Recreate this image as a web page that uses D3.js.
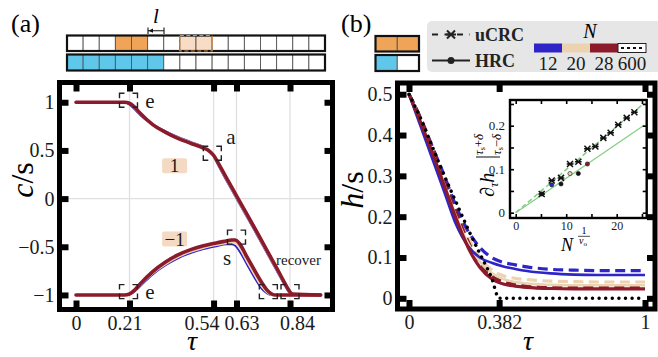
<!DOCTYPE html>
<html><head><meta charset="utf-8">
<script src="https://cdn.jsdelivr.net/npm/d3@7"></script>
<style>
body{margin:0;background:#fff}
svg{display:block}
svg text{font-family:"Liberation Serif","DejaVu Serif",serif !important}
</style></head><body>
<svg id="c" width="658" height="357"></svg>
<script>
// ---------------- DATA ----------------
// panel (a)
const tickTauA = [0, 0.21, 0.54, 0.63, 0.84];
const tickTauLabelsA = ["0", "0.21", "0.54", "0.63", "0.84"];
const tickTauShiftA = [0, -5, -12, 5, 7];
const gridTauA = [0.21, 0.54, 0.63, 0.84];
const tickCA = [-1, -0.5, 0, 0.5, 1];
const tickCLabelsA = ["\u22121", "\u22120.5", "0", "0.5", "1"];
const seriesN = ["12", "20", "28"];
const seriesColors = ["#2f24c8", "#ebd2b1", "#8b1a2b"];

const tauUp = [0, 0.19, 0.21, 0.23, 0.25, 0.3, 0.35, 0.4, 0.45, 0.5, 0.52, 0.54, 0.56, 0.6, 0.65, 0.7, 0.75, 0.8, 0.82, 0.835, 0.85, 0.96];
const cUp12 = [1, 1, 0.975, 0.925, 0.87, 0.775, 0.7, 0.64, 0.59, 0.54, 0.51, 0.44, 0.335, 0.14, -0.095, -0.33, -0.57, -0.81, -0.905, -0.97, -1, -1];
const cUp20 = [1, 1, 0.985, 0.94, 0.88, 0.77, 0.695, 0.632, 0.582, 0.532, 0.505, 0.445, 0.35, 0.155, -0.08, -0.315, -0.555, -0.795, -0.89, -0.96, -0.995, -1];
const cUp28 = [1, 1, 0.99, 0.95, 0.89, 0.77, 0.69, 0.625, 0.575, 0.525, 0.5, 0.45, 0.36, 0.17, -0.065, -0.3, -0.54, -0.78, -0.88, -0.95, -0.99, -1];

const tauLo = [0, 0.19, 0.21, 0.23, 0.25, 0.3, 0.35, 0.4, 0.45, 0.5, 0.55, 0.59, 0.61, 0.625, 0.64, 0.67, 0.7, 0.73, 0.75, 0.765, 0.78, 0.96];
const cLo12 = [-1, -1, -0.995, -0.965, -0.915, -0.79, -0.695, -0.62, -0.565, -0.525, -0.495, -0.475, -0.475, -0.49, -0.54, -0.68, -0.82, -0.94, -0.985, -1, -1, -1];
const cLo20 = [-1, -1, -0.99, -0.955, -0.9, -0.775, -0.68, -0.605, -0.55, -0.51, -0.48, -0.46, -0.455, -0.46, -0.5, -0.64, -0.78, -0.91, -0.97, -0.995, -1, -1];
const cLo28 = [-1, -1, -0.99, -0.95, -0.89, -0.76, -0.66, -0.585, -0.53, -0.49, -0.46, -0.44, -0.43, -0.43, -0.46, -0.6, -0.74, -0.875, -0.95, -0.985, -1, -1];

// annotation anchors (data coordinates)
const boxTau = [0.206, 0.535, 0.63, 0.206, 0.755, 0.84];
const boxC = [1.02, 0.47, -0.4, -0.965, -0.965, -0.965];
const labelText = ["e", "a", "s", "e", "recover"];
const labelTau = [0.272, 0.59, 0.577, 0.272, 0.785];
const labelC = [1.005, 0.64, -0.62, -0.968, -0.64];
const chargeText = ["1", "\u22121"];
const chargeTau = [0.387, 0.387];
const chargeC = [0.34, -0.42];

// header cells
const rowA1 = ["", "", "", "o", "o", "", "", "d", "d", "", "", "", "", "", "", ""];
const rowA2 = ["b", "b", "b", "b", "b", "b", "", "", "", "", "", "", "", "", "", ""];
const rowB1 = ["o", "o"];
const rowB2 = ["b", ""];

// panel (b)
const tickTauB = [0, 0.382, 1];
const tickTauLabelsB = ["0", "0.382", "1"];
const tickHB = [0, 0.1, 0.2, 0.3, 0.4, 0.5];
const tickHLabelsB = ["0", "0.1", "0.2", "0.3", "0.4", "0.5"];
const tauB = [0, 0.05, 0.1, 0.15, 0.2, 0.25, 0.3, 0.35, 0.4, 0.45, 0.5, 0.6, 0.7, 0.8, 0.9, 1.0];
const hHRC12 = [0.5, 0.42, 0.34, 0.26, 0.18, 0.128, 0.1, 0.087, 0.078, 0.072, 0.067, 0.061, 0.058, 0.057, 0.057, 0.057];
const hHRC20 = [0.5, 0.43, 0.355, 0.278, 0.2, 0.135, 0.09, 0.062, 0.047, 0.04, 0.036, 0.033, 0.032, 0.032, 0.032, 0.032];
const hHRC28 = [0.5, 0.43, 0.355, 0.275, 0.195, 0.125, 0.076, 0.048, 0.035, 0.03, 0.027, 0.024, 0.023, 0.023, 0.023, 0.023];
const huCRC12 = [0.5, 0.44, 0.37, 0.3, 0.225, 0.165, 0.125, 0.1, 0.088, 0.082, 0.077, 0.071, 0.069, 0.068, 0.068, 0.068];
const huCRC20 = [0.5, 0.44, 0.37, 0.295, 0.215, 0.15, 0.1, 0.07, 0.055, 0.049, 0.046, 0.042, 0.041, 0.04, 0.04, 0.04];
const huCRC28 = [0.5, 0.44, 0.365, 0.285, 0.21, 0.14, 0.085, 0.055, 0.04, 0.034, 0.031, 0.029, 0.028, 0.028, 0.028, 0.028];
const tau600 = [0, 0.05, 0.1, 0.15, 0.2, 0.25, 0.3, 0.35, 0.382, 1];
const h600 = [0.5, 0.44, 0.37, 0.3, 0.235, 0.17, 0.11, 0.05, 0, 0];
const legendN = ["12", "20", "28", "600"];

// inset
const insetTicksX = [0, 5, 10, 15, 20, 25];
const insetLabelsX = ["0", "", "10", "", "20", ""];
const insetTicksY = [0, 0.05, 0.1, 0.15, 0.2, 0.25];
const insetLabelsY = ["0", "", "0.1", "", "0.2", ""];
const insetXu = [5.15, 7.13, 8.97, 10.75, 12.4, 14.2, 15.77, 17.35, 18.8, 20.3, 21.98, 23.5];
const insetYu = [0.043, 0.074, 0.080, 0.112, 0.117, 0.147, 0.152, 0.172, 0.184, 0.202, 0.218, 0.231];
const insetXh = [5.15, 7.13, 8.97, 10.75, 12.4, 14.2];
const insetYh = [0.043, 0.064, 0.066, 0.090, 0.090, 0.112];
const insetHColors = ["#111", "#2f24c8", "#111", "#ebd2b1", "#111", "#8b1a2b"];
const fitX = [0, 25.5];
const fitU = [0, 0.2525];
const fitH = [0, 0.2015];

// ---------------- DRAW ----------------
const svg = d3.select('#c');
const zip = (a, b) => a.map((v, i) => [v, b[i]]);

function styleAxis(g, fs, tw) {
  g.attr('font-family', null);
  g.select('.domain').remove();
  g.selectAll('.tick line').attr('stroke', '#000').attr('stroke-width', tw);
  g.selectAll('.tick text').attr('font-size', fs).attr('fill', '#1a1a1a');
}

function bracketBox(g, cx, cy, w, h) {
  const a = 5, gx = w - 2 * a, gy = h - 2 * a;
  g.append('rect').attr('x', cx - w / 2).attr('y', cy - h / 2).attr('width', w).attr('height', h)
    .attr('fill', 'none').attr('stroke', '#222').attr('stroke-width', 1.4)
    .attr('stroke-dasharray', [a, gx, 2 * a, gy, 2 * a, gx, 2 * a, gy, a].join(','));
}

// ===== Panel (a) =====
const xA = d3.scaleLinear().domain([-0.0648, 1.0068]).range([59.5, 332.5]);
const yA = d3.scaleLinear().domain([-1.151, 1.205]).range([309.5, 82.5]);
const gA = svg.append('g');

gA.selectAll('line.gv').data(gridTauA).join('line')
  .attr('x1', d => xA(d)).attr('x2', d => xA(d)).attr('y1', 83).attr('y2', 309)
  .attr('stroke', '#e0e0e0').attr('stroke-width', 1.3);
gA.append('line').attr('x1', 60).attr('x2', 332).attr('y1', yA(0)).attr('y2', yA(0))
  .attr('stroke', '#e0e0e0').attr('stroke-width', 1.3);

const lineA = d3.line().x(d => xA(d[0])).y(d => yA(d[1])).curve(d3.curveMonotoneX);
const upSets = [cUp12, cUp20, cUp28];
const loSets = [cLo12, cLo20, cLo28];
const widthsA = [1.8, 2.6, 3.6];
[0, 1, 2].forEach(i => {
  gA.append('path').datum(zip(tauUp, upSets[i])).attr('d', lineA).attr('fill', 'none')
    .attr('stroke', seriesColors[i]).attr('stroke-width', widthsA[i]).attr('stroke-linecap', 'round');
  gA.append('path').datum(zip(tauLo, loSets[i])).attr('d', lineA).attr('fill', 'none')
    .attr('stroke', seriesColors[i]).attr('stroke-width', widthsA[i]).attr('stroke-linecap', 'round');
});

boxTau.forEach((t, i) => bracketBox(gA, xA(t), yA(boxC[i]), 18, 14));
labelText.forEach((s, i) => {
  gA.append('text').attr('x', xA(labelTau[i])).attr('y', yA(labelC[i])).attr('dy', '0.32em')
    .attr('font-size', s === 'recover' ? 15 : 21).attr('fill', '#1a1a1a').text(s);
});
chargeText.forEach((s, i) => {
  const cx = xA(chargeTau[i]), cy = yA(chargeC[i]);
  gA.append('rect').attr('x', cx - 12.5).attr('y', cy - 7.5).attr('width', 25).attr('height', 15)
    .attr('rx', 2).attr('fill', '#f5dac3');
  gA.append('text').attr('x', cx).attr('y', cy).attr('dy', '0.34em').attr('text-anchor', 'middle')
    .attr('font-size', 19).attr('fill', '#1a1a1a').text(s);
});

const axA_b = gA.append('g').attr('transform', 'translate(0,309.5)')
  .call(d3.axisBottom(xA).tickValues(tickTauA).tickFormat((d, i) => tickTauLabelsA[i]).tickSize(-9).tickPadding(6));
styleAxis(axA_b, 20, 6);
axA_b.selectAll('.tick text').attr('dx', (d, i) => tickTauShiftA[i]);
const axA_t = gA.append('g').attr('transform', 'translate(0,82.5)')
  .call(d3.axisTop(xA).tickValues(tickTauA).tickFormat('').tickSize(-9));
styleAxis(axA_t, 20, 6);
const axA_l = gA.append('g').attr('transform', 'translate(59.5,0)')
  .call(d3.axisLeft(yA).tickValues(tickCA).tickFormat((d, i) => tickCLabelsA[i]).tickSize(-9).tickPadding(5));
styleAxis(axA_l, 20, 6);
const axA_r = gA.append('g').attr('transform', 'translate(332.5,0)')
  .call(d3.axisRight(yA).tickValues(tickCA).tickFormat('').tickSize(-8));
styleAxis(axA_r, 19, 6);

gA.append('rect').attr('x', 59.5).attr('y', 82.5).attr('width', 273).attr('height', 227)
  .attr('fill', 'none').attr('stroke', '#000').attr('stroke-width', 5);

gA.append('text').attr('x', 192).attr('y', 349.5).attr('text-anchor', 'middle')
  .attr('font-size', 28).attr('font-style', 'italic').text('\u03c4');
const ylA = gA.append('text').attr('transform', 'translate(33,180) rotate(-90)')
  .attr('text-anchor', 'middle').attr('font-size', 32);
ylA.append('tspan').attr('font-style', 'italic').text('c');
ylA.append('tspan').text('/s');

// header (a)
svg.append('text').attr('x', 11).attr('y', 32).attr('font-size', 26).text('(a)');
function drawRow(states, x0, x1, y0, h) {
  const sc = d3.scaleBand().domain(d3.range(states.length)).range([x0, x1]);
  const g = svg.append('g');
  g.selectAll('rect').data(states).join('rect')
    .attr('x', (d, i) => sc(i)).attr('y', y0).attr('width', sc.bandwidth()).attr('height', h)
    .attr('fill', d => d === 'o' ? '#f0a458' : d === 'b' ? '#5fc7ea' : d === 'd' ? '#f8dcc5' : '#fff')
    .attr('stroke', '#555').attr('stroke-width', 0.9);
  g.append('rect').attr('x', x0).attr('y', y0).attr('width', x1 - x0).attr('height', h)
    .attr('fill', 'none').attr('stroke', '#111').attr('stroke-width', 2.2);
  const di = states.map((d, i) => d === 'd' ? i : -1).filter(i => i >= 0);
  if (di.length) {
    const a = di[0], b = di[di.length - 1];
    g.append('rect').attr('x', sc(a)).attr('y', y0).attr('width', sc(b) + sc.bandwidth() - sc(a)).attr('height', h)
      .attr('fill', 'none').attr('stroke', '#e58a2e').attr('stroke-width', 1.2).attr('stroke-dasharray', '4,2.5');
  }
}
drawRow(rowA1, 67, 325, 35.5, 15.5);
drawRow(rowA2, 67, 325, 54.5, 16);
// l arrow
svg.append('text').attr('x', 156).attr('y', 23).attr('text-anchor', 'middle').attr('font-size', 21)
  .attr('font-style', 'italic').text('l');
svg.append('path').attr('d', 'M148,30.7H164M148,27.5V34M164,27.5V34').attr('stroke', '#111').attr('stroke-width', 1.1).attr('fill', 'none');
svg.append('path').attr('d', 'M148.5,30.7L153,28.6L153,32.8Z').attr('fill', '#111');

// ===== Panel (b) =====
const xB = d3.scaleLinear().domain([-0.0487, 1.0424]).range([397.5, 655]);
const yB = d3.scaleLinear().domain([-0.0262, 0.5275]).range([309, 83]);
const gB = svg.append('g');
svg.append('defs').append('clipPath').attr('id', 'clipB').append('rect')
  .attr('x', 400).attr('y', 85).attr('width', 252).attr('height', 222);
const gBc = gB.append('g').attr('clip-path', 'url(#clipB)');
const lineB = d3.line().x(d => xB(d[0])).y(d => yB(d[1])).curve(d3.curveMonotoneX);
const hrc = [hHRC12, hHRC20, hHRC28];
const ucrc = [huCRC12, huCRC20, huCRC28];
[1, 0, 2].forEach(i => {
  gBc.append('path').datum(zip(tauB, ucrc[i])).attr('d', lineB).attr('fill', 'none')
    .attr('stroke', seriesColors[i]).attr('stroke-width', 3.2).attr('stroke-dasharray', '10,5.5');
});
[1, 0, 2].forEach(i => {
  gBc.append('path').datum(zip(tauB, hrc[i])).attr('d', lineB).attr('fill', 'none')
    .attr('stroke', seriesColors[i]).attr('stroke-width', i === 2 ? 3.2 : 2.6);
});
gBc.append('path').datum(zip(tau600, h600)).attr('d', lineB)
  .attr('fill', 'none').attr('stroke', '#000').attr('stroke-width', 3.4)
  .attr('stroke-linecap', 'round').attr('stroke-dasharray', '0.1,6.5');

const axB_b = gB.append('g').attr('transform', 'translate(0,309)')
  .call(d3.axisBottom(xB).tickValues(tickTauB).tickFormat((d, i) => tickTauLabelsB[i]).tickSize(-9).tickPadding(6));
styleAxis(axB_b, 20, 6);
const axB_t = gB.append('g').attr('transform', 'translate(0,83)')
  .call(d3.axisTop(xB).tickValues(tickTauB).tickFormat('').tickSize(-9));
styleAxis(axB_t, 20, 6);
const axB_l = gB.append('g').attr('transform', 'translate(397.5,0)')
  .call(d3.axisLeft(yB).tickValues(tickHB).tickFormat((d, i) => tickHLabelsB[i]).tickSize(-9).tickPadding(5));
styleAxis(axB_l, 20, 6);
const axB_r = gB.append('g').attr('transform', 'translate(655,0)')
  .call(d3.axisRight(yB).tickValues(tickHB).tickFormat('').tickSize(-8));
styleAxis(axB_r, 19, 6);

// inset
const xI = d3.scaleLinear().domain([-1.13, 25.94]).range([510, 646.7]);
const yI = d3.scaleLinear().domain([-0.0122, 0.2591]).range([218, 100]);
const gI = gB.append('g');
gI.append('rect').attr('x', 510).attr('y', 100).attr('width', 136.7).attr('height', 118).attr('fill', '#fff');
const lineI = d3.line().x(d => xI(d[0])).y(d => yI(d[1]));
gI.append('path').datum(zip(fitX, fitH)).attr('d', lineI).attr('stroke', '#86cf86').attr('stroke-width', 1.3).attr('fill', 'none');
gI.append('path').datum(zip(fitX, fitU)).attr('d', lineI).attr('stroke', '#86cf86').attr('stroke-width', 1.6)
  .attr('fill', 'none').attr('stroke-dasharray', '5,3');
const starPath = 'M-3,-3L3,3M-3,3L3,-3M-3.3,0H3.3';
gI.selectAll('path.u').data(zip(insetXu, insetYu)).join('path').attr('class', 'u')
  .attr('transform', d => `translate(${xI(d[0])},${yI(d[1])})`).attr('d', starPath)
  .attr('stroke', '#111').attr('stroke-width', 1.5).attr('fill', 'none');
gI.selectAll('circle.h').data(zip(insetXh, insetYh)).join('circle').attr('class', 'h')
  .attr('cx', d => xI(d[0])).attr('cy', d => yI(d[1])).attr('r', 2.1)
  .attr('fill', (d, i) => insetHColors[i]).attr('stroke', '#111').attr('stroke-width', 0.6);
const axI_b = gI.append('g').attr('transform', 'translate(0,218)')
  .call(d3.axisBottom(xI).tickValues(insetTicksX).tickFormat((d, i) => insetLabelsX[i]).tickSize(-4).tickPadding(3));
styleAxis(axI_b, 12, 1.6);
const axI_t = gI.append('g').attr('transform', 'translate(0,100)')
  .call(d3.axisTop(xI).tickValues(insetTicksX).tickFormat('').tickSize(-4));
styleAxis(axI_t, 12, 1.6);
const axI_l = gI.append('g').attr('transform', 'translate(510,0)')
  .call(d3.axisLeft(yI).tickValues(insetTicksY).tickFormat((d, i) => insetLabelsY[i]).tickSize(-4).tickPadding(5));
styleAxis(axI_l, 13, 1.6);
const axI_r = gI.append('g').attr('transform', 'translate(646.7,0)')
  .call(d3.axisRight(yI).tickValues(insetTicksY).tickFormat('').tickSize(-4));
styleAxis(axI_r, 13, 1.6);
gI.append('rect').attr('x', 510).attr('y', 100).attr('width', 136.7).attr('height', 118)
  .attr('fill', 'none').attr('stroke', '#000').attr('stroke-width', 2.4);
// inset x label
gI.append('text').attr('x', 561).attr('y', 251).attr('font-size', 18).attr('font-style', 'italic').text('N');
gI.append('text').attr('x', 584).attr('y', 234).attr('text-anchor', 'middle').attr('font-size', 10).text('1');
gI.append('line').attr('x1', 578).attr('x2', 590).attr('y1', 236.3).attr('y2', 236.3).attr('stroke', '#222').attr('stroke-width', 0.8);
const nu = gI.append('text').attr('x', 579).attr('y', 244).attr('font-size', 10);
nu.append('tspan').attr('font-style', 'italic').text('\u03bd');
nu.append('tspan').attr('font-size', 7).attr('dy', 1.5).text('o');
// inset y label (rotated)
const yl = gI.append('g').attr('transform', 'translate(494,161) rotate(-90)');
const ylt = yl.append('text').attr('x', -36).attr('y', 0).attr('font-size', 20);
ylt.append('tspan').attr('font-style', 'italic').text('\u2202');
ylt.append('tspan').attr('font-size', 12).attr('dy', 4).attr('font-style', 'italic').text('\u03c4');
ylt.append('tspan').attr('dy', -4).attr('font-style', 'italic').text('h');
yl.append('line').attr('x1', 4).attr('x2', 4).attr('y1', -18).attr('y2', 6).attr('stroke', '#222').attr('stroke-width', 1.1);
const sup = yl.append('text').attr('x', 6).attr('y', -11).attr('font-size', 13);
sup.append('tspan').attr('font-style', 'italic').text('\u03c4');
sup.append('tspan').attr('font-size', 8).attr('dy', 2).text('s');
sup.append('tspan').attr('dy', -2).text('+');
sup.append('tspan').attr('font-style', 'italic').text('\u03b4');
const sub = yl.append('text').attr('x', 6).attr('y', 7).attr('font-size', 13);
sub.append('tspan').attr('font-style', 'italic').text('\u03c4');
sub.append('tspan').attr('font-size', 8).attr('dy', 2).text('s');
sub.append('tspan').attr('dy', -2).text('\u2212');
sub.append('tspan').attr('font-style', 'italic').text('\u03b4');

gB.append('rect').attr('x', 397.5).attr('y', 83).attr('width', 257.5).attr('height', 226)
  .attr('fill', 'none').attr('stroke', '#000').attr('stroke-width', 5);

gB.append('text').attr('x', 528).attr('y', 349.5).attr('text-anchor', 'middle')
  .attr('font-size', 28).attr('font-style', 'italic').text('\u03c4');
const ylB = gB.append('text').attr('transform', 'translate(363,190) rotate(-90)')
  .attr('text-anchor', 'middle').attr('font-size', 32);
ylB.append('tspan').attr('font-style', 'italic').text('h');
ylB.append('tspan').text('/s');

// header (b)
svg.append('text').attr('x', 341).attr('y', 32).attr('font-size', 26).text('(b)');
drawRow(rowB1, 375.5, 419, 36, 15.5);
drawRow(rowB2, 375.5, 419, 55, 16);

// legend
const lg = svg.append('g');
lg.append('rect').attr('x', 427).attr('y', 21).attr('width', 240).attr('height', 51).attr('rx', 5).attr('fill', '#e6e6e6');
lg.append('path').attr('d', 'M432,34.5H470').attr('stroke', '#222').attr('stroke-width', 2).attr('stroke-dasharray', '6,6.5');
lg.append('path').attr('transform', 'translate(451,34.5)').attr('d', 'M-4,-4L4,4M-4,4L4,-4M-5,0H5').attr('stroke', '#222').attr('stroke-width', 2);
lg.append('text').attr('x', 475).attr('y', 40.5).attr('font-size', 18).attr('font-weight', 'bold').attr('fill', '#222').text('uCRC');
lg.append('path').attr('d', 'M432,60.5H470').attr('stroke', '#222').attr('stroke-width', 2);
lg.append('circle').attr('cx', 451).attr('cy', 60.5).attr('r', 3.5).attr('fill', '#222');
lg.append('text').attr('x', 475).attr('y', 66.5).attr('font-size', 18).attr('font-weight', 'bold').attr('fill', '#222').text('HRC');
lg.append('text').attr('x', 590).attr('y', 38).attr('text-anchor', 'middle').attr('font-size', 20).attr('font-style', 'italic').text('N');
const cb = d3.scaleBand().domain(legendN).range([534, 646]);
const cbColors = seriesColors.concat(['#fff']);
lg.selectAll('rect.cb').data(legendN).join('rect').attr('class', 'cb')
  .attr('x', d => cb(d)).attr('y', 43.5).attr('width', cb.bandwidth()).attr('height', 9)
  .attr('fill', (d, i) => cbColors[i]);
lg.append('rect').attr('x', cb('600')).attr('y', 43.5).attr('width', cb.bandwidth()).attr('height', 9)
  .attr('fill', 'none').attr('stroke', '#222').attr('stroke-width', 1);
lg.append('path').attr('d', `M${cb('600') + 3},48H${cb('600') + cb.bandwidth() - 2}`).attr('stroke', '#111')
  .attr('stroke-width', 2).attr('stroke-dasharray', '3,3');
lg.selectAll('text.cbl').data(legendN).join('text').attr('class', 'cbl')
  .attr('x', d => cb(d) + cb.bandwidth() / 2).attr('y', 70).attr('text-anchor', 'middle')
  .attr('font-size', 19).attr('fill', '#1a1a1a').text(d => d);
</script>
</body></html>
